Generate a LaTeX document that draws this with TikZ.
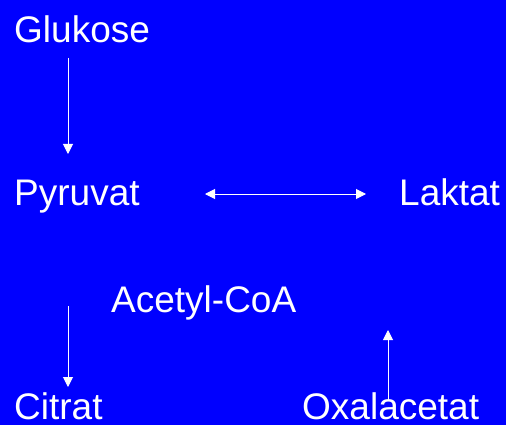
\documentclass[tikz,border=0pt]{standalone}
\usepackage{fontspec}
\setmainfont{Liberation Sans}
\usetikzlibrary{arrows.meta}
\definecolor{bgblue}{RGB}{0,0,255}
\begin{document}
\begin{tikzpicture}[x=1pt,y=-1pt,
  lbl/.style={text=white,inner sep=0pt,anchor=base west,font=\fontsize{37}{41}\selectfont},
  arr/.style={draw=white,line width=1pt,-{Triangle[length=10pt,width=10pt]}},
  darr/.style={draw=white,line width=1pt,{Triangle[length=10pt,width=10pt]}-{Triangle[length=10pt,width=10pt]}}]
\fill[bgblue] (0,0) rectangle (506,425);
\useasboundingbox (0,0) rectangle (506,425);
\node[lbl] (glu) at (14,43) {Glukose};
\node[lbl] (pyr) at (14,205) {Pyruvat};
\node[lbl] (lak) at (399,205) {Laktat};
\node[lbl] (acc) at (111,312) {Acetyl-CoA};
\node[lbl] (cit) at (14,419) {Citrat};
\node[lbl] (oxa) at (302,419) {Oxalacetat};
\coordinate (a1s) at (68,58);
\coordinate (a1e) at (68,154);
\coordinate (a2s) at (205,194);
\coordinate (a2e) at (366,194);
\coordinate (a3s) at (68,306);
\coordinate (a3e) at (68,387);
\coordinate (a4s) at (388,400);
\coordinate (a4e) at (388,330);
\draw[arr] (a1s) -- (a1e);
\draw[darr] (a2s) -- (a2e);
\draw[arr] (a3s) -- (a3e);
\draw[arr] (a4s) -- (a4e);
\end{tikzpicture}
\end{document}
